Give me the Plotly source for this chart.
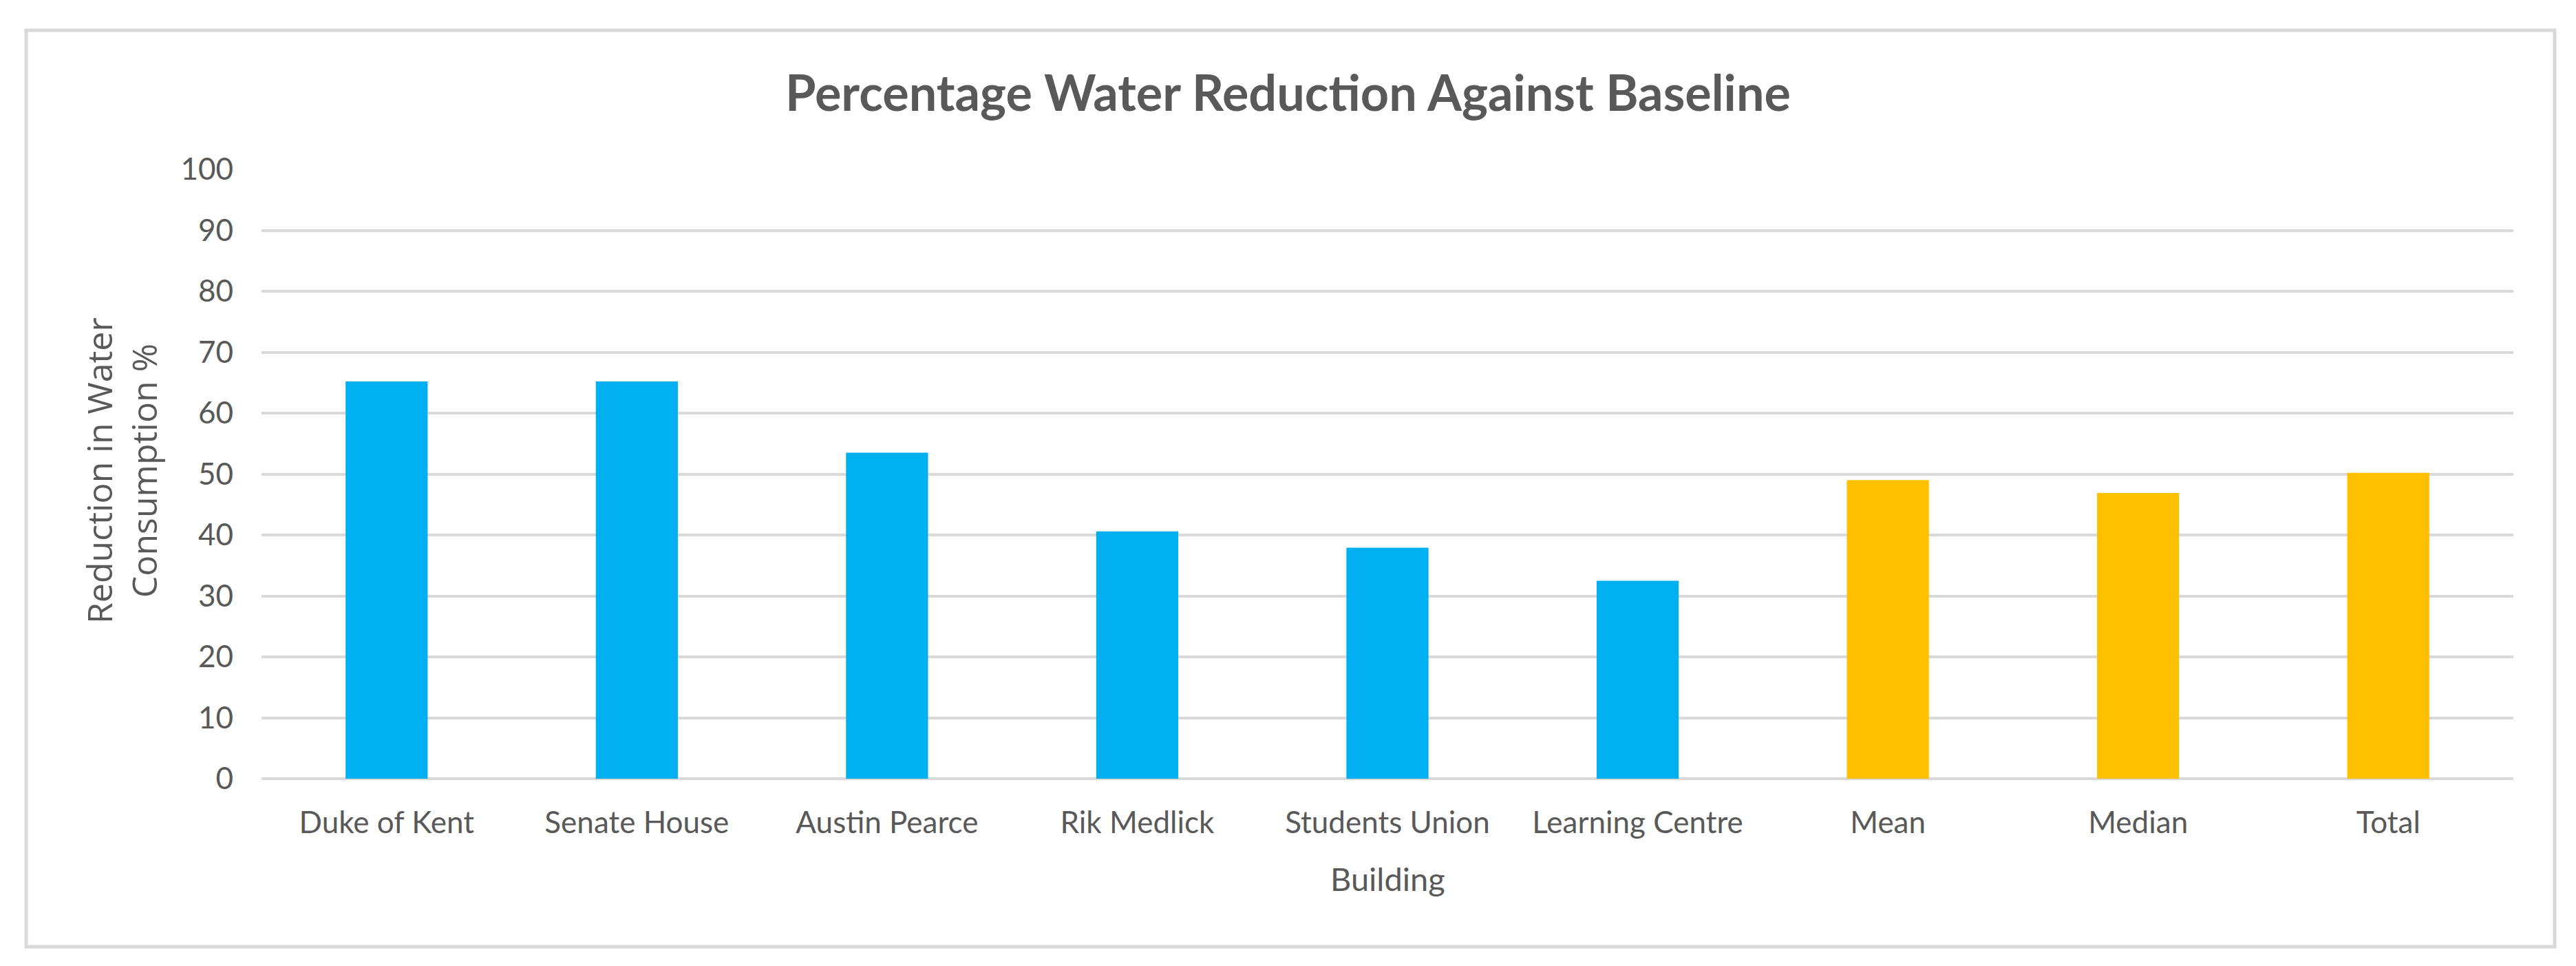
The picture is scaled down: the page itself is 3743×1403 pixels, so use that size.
import plotly.graph_objects as go

# ---- data ----
categories = ["Duke of Kent", "Senate House", "Austin Pearce", "Rik Medlick",
              "Students Union", "Learning Centre", "Mean", "Median", "Total"]
reduction_pct = [65.2, 65.2, 53.5, 40.6, 37.9, 32.5, 49.0, 46.9, 50.2]
kind = ["building"] * 6 + ["summary"] * 3
y_ticks = [0, 10, 20, 30, 40, 50, 60, 70, 80, 90, 100]

# ---- style ----
palette = {"building": "#00B0F0", "summary": "#FFC000"}
text_color = "#595959"
grid_color = "#D9D9D9"

OFF = 8                     # browser body margin
W, H = 3743 - 2 * OFF, 1403 - 2 * OFF
L, T = 380 - OFF, 246 - OFF
R = W - (3652 - OFF)
B = H - (1131 - OFF)
pw, ph = W - L - R, H - T - B

def px_x(x):  # page pixel -> paper
    return (x - OFF - L) / pw

def px_y(y):
    return (H - B - (y - OFF)) / ph

fig = go.Figure(
    go.Bar(
        x=categories,
        y=reduction_pct,
        marker=dict(color=[palette[k] for k in kind], line=dict(width=0)),
        showlegend=False,
    )
)

fig.update_layout(
    width=W,
    height=H,
    margin=dict(l=L, r=R, t=T, b=B, autoexpand=False),
    paper_bgcolor="white",
    plot_bgcolor="white",
    bargap=0.672,
    font=dict(family="Lato", color=text_color, size=44),
    title=dict(
        text="<b>Percentage Water Reduction Against Baseline</b>",
        x=0.5,
        xref="container",
        xanchor="center",
        y=1 - (136 - OFF) / H,
        yref="container",
        yanchor="middle",
        font=dict(family="Lato", size=72, color=text_color),
    ),
    xaxis=dict(
        showgrid=False,
        showline=False,
        zeroline=False,
        ticks="",
        tickfont=dict(size=44, color=text_color),
        ticklabelstandoff=34,
    ),
    yaxis=dict(
        range=[0, 100],
        tickvals=y_ticks,
        showgrid=True,
        gridcolor=grid_color,
        gridwidth=4,
        zeroline=True,
        zerolinecolor=grid_color,
        zerolinewidth=4,
        showline=False,
        ticks="",
        tickfont=dict(size=44, color=text_color),
        ticklabelstandoff=40,
    ),
    annotations=[
        dict(
            text="Reduction in Water<br>Consumption %",
            xref="paper", yref="paper",
            x=px_x(176), y=px_y(684),
            xanchor="center", yanchor="middle",
            textangle=-90,
            showarrow=False,
            font=dict(family="Open Sans", size=50, color=text_color),
        ),
        dict(
            text="Building",
            xref="paper", yref="paper",
            x=0.5, y=px_y(1276),
            xanchor="center", yanchor="middle",
            showarrow=False,
            font=dict(family="Lato", size=47, color=text_color),
        ),
    ],
    shapes=[
        dict(
            type="rect",
            xref="paper", yref="paper",
            x0=px_x(38), x1=px_x(3712),
            y0=px_y(1375), y1=px_y(44),
            line=dict(color=grid_color, width=5),
            fillcolor="rgba(0,0,0,0)",
            layer="below",
        )
    ],
)

fig.write_html("out.html")
